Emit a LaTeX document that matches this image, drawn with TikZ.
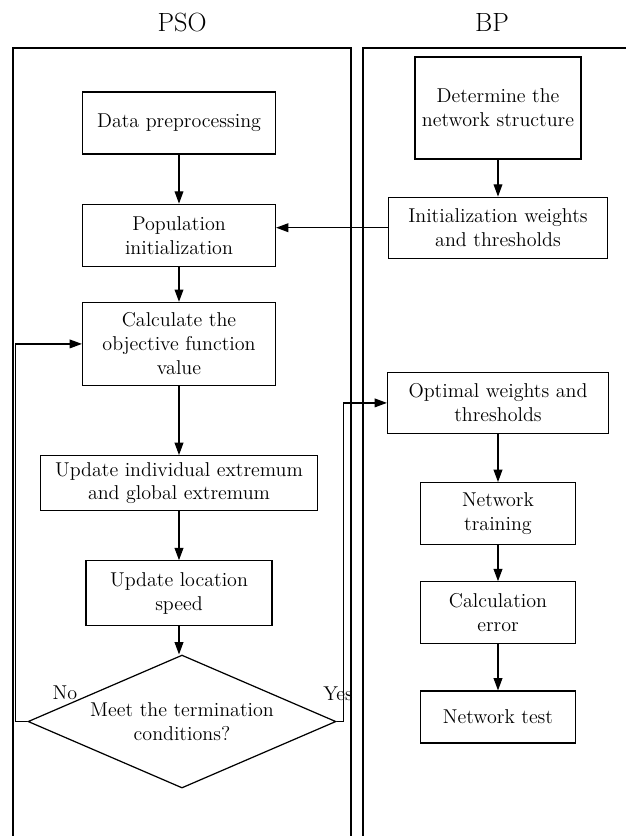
\documentclass[tikz,border=0pt]{standalone}
\usepackage{tikz}
\usetikzlibrary{positioning,arrows.meta,shapes.geometric}
\tikzset{
  proc/.style={draw,line width=0.7pt,align=center,fill=white,inner sep=2pt},
  decide/.style={draw,diamond,line width=0.7pt,aspect=2.36,align=center,
            inner sep=0pt,minimum width=6.16cm,minimum height=2.66cm},
  flow/.style={-{Triangle[length=7pt,width=5pt]},line width=0.7pt},
  lane/.style={line width=0.8pt},
  lanetitle/.style={font=\fontsize{15}{18}\selectfont},
}

\begin{document}
\begin{tikzpicture}[x=0.02cm,y=-0.02cm,node distance=0.9cm,
    every node/.style={font=\fontsize{11.4}{13.6}\selectfont}]
  \useasboundingbox (0,0) rectangle (626,836);
  % the two lanes, open at the bottom
  \draw[lane] (13,836) |- (351,48) -- (351,836);
  \draw[lane] (363,836) |- (630,48);
  \node[lanetitle] (psot) at (182,22) {PSO};
  \node[lanetitle] (bpt) at (492,22) {BP};
  % PSO column
  \node[proc,minimum width=3.86cm,minimum height=1.24cm] (dp) at (179,123) {Data preprocessing};
  \node[proc,minimum width=3.86cm,minimum height=1.24cm,below=0.98cm of dp] (pi) {Population\\initialization};
  \node[proc,minimum width=3.86cm,minimum height=1.66cm,below=0.70cm of pi] (cv) {Calculate the\\objective function\\value};
  \node[proc,minimum width=5.54cm,minimum height=1.10cm,below=1.38cm of cv] (ue) {Update individual extremum\\and global extremum};
  \node[proc,minimum width=3.72cm,minimum height=1.30cm,below=0.98cm of ue] (ul) {Update location\\speed};
  \node[decide,below=0.56cm of ul,xshift=0.06cm] (md) {Meet the termination\\conditions?};
  % BP column
  \node[proc,minimum width=3.32cm,minimum height=2.04cm] (ns) at (498,108) {Determine the\\network structure};
  \node[proc,minimum width=4.38cm,minimum height=1.22cm,below=0.74cm of ns] (iw) {Initialization weights\\and thresholds};
  \node[proc,minimum width=4.42cm,minimum height=1.22cm,below=2.26cm of iw] (ow) {Optimal weights and\\thresholds};
  \node[proc,minimum width=3.10cm,minimum height=1.24cm,below=0.96cm of ow] (nt) {Network\\training};
  \node[proc,minimum width=3.10cm,minimum height=1.24cm,below=0.72cm of nt] (ce) {Calculation\\error};
  \node[proc,minimum width=3.10cm,minimum height=1.04cm,below=0.92cm of ce] (tt) {Network test};
  \draw[flow] (dp) -- (pi);
  \draw[flow] (pi) -- (cv);
  \draw[flow] (cv) -- (ue);
  \draw[flow] (ue) -- (ul);
  \draw[flow] (ul) -- (ul |- md.north);
  \draw[flow] (ns) -- (iw);
  \draw[flow] (iw.west) -- (iw.west -| pi.east);
  \draw[flow] (ow) -- (nt);
  \draw[flow] (nt) -- (ce);
  \draw[flow] (ce) -- (tt);
  % loop back and hand-over
  \draw[flow] (md.west) -- ++(-12,0) |- (cv.west);
  \draw[flow] (md.east) -- ++(7,0) |- (ow.west);
  \node (nolbl) at (65,693) {No};
  \node (yeslbl) at (338,694) {Yes};
\end{tikzpicture}
\end{document}
